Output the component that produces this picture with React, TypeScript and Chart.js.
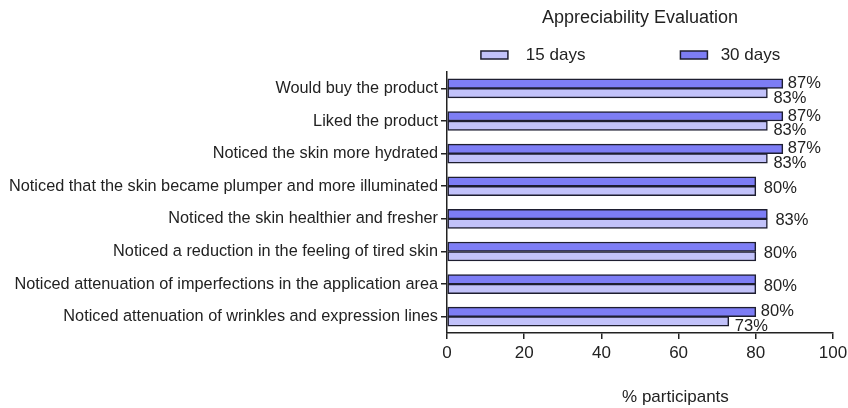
import React, { useEffect, useRef } from "react";
import { Chart, registerables } from "chart.js";

Chart.register(...registerables);

const categories = [
  "Would buy the product",
  "Liked the product",
  "Noticed the skin more hydrated",
  "Noticed that the skin became plumper and more illuminated",
  "Noticed the skin healthier and fresher",
  "Noticed a reduction in the feeling of tired skin",
  "Noticed attenuation of imperfections in the application area",
  "Noticed attenuation of wrinkles and expression lines",
];
const days30 = [87, 87, 87, 80, 83, 80, 80, 80];
const days15 = [83, 83, 83, 80, 83, 80, 80, 73];
const xTicks = [0, 20, 40, 60, 80, 100];
const seriesNames = ["30 days", "15 days"];

const FONT = '"Liberation Sans", Arial, sans-serif';
const TEXT = "#222";
const AXIS = "#222";

const valueLabels = {
  id: "valueLabels",
  afterDatasetsDraw(chart: any) {
    const ctx = chart.ctx;
    const m0 = chart.getDatasetMeta(0);
    const m1 = chart.getDatasetMeta(1);
    ctx.save();
    ctx.font = `16.5px ${FONT}`;
    ctx.fillStyle = TEXT;
    ctx.textBaseline = "middle";
    ctx.textAlign = "left";
    categories.forEach((_, i) => {
      const a = days30[i];
      const b = days15[i];
      const b0 = m0.data[i];
      const b1 = m1.data[i];
      if (a === b) {
        ctx.fillText(a + "%", b0.x + 8, (b0.y + b1.y) / 2 + 2);
      } else {
        ctx.fillText(a + "%", b0.x + 5, b0.y);
        ctx.fillText(b + "%", b1.x + 6, b1.y + 5);
      }
    });
    ctx.restore();
  },
};

export default function App() {
  const ref = useRef<HTMLCanvasElement>(null);

  useEffect(() => {
    if (!ref.current) return;
    Chart.defaults.font.family = FONT;
    Chart.defaults.color = TEXT;
    const chart = new Chart(ref.current, {
      type: "bar",
      data: {
        labels: categories,
        datasets: [
          {
            label: seriesNames[0],
            data: days30,
            backgroundColor: "#7d7df5",
            borderColor: "#1e1e30",
            borderWidth: 1.5,
            borderSkipped: false,
            barThickness: 9.5,
            categoryPercentage: 0.76,
          },
          {
            label: seriesNames[1],
            data: days15,
            backgroundColor: "#c2c2fa",
            borderColor: "#1e1e30",
            borderWidth: 1.5,
            borderSkipped: false,
            barThickness: 9.5,
            categoryPercentage: 0.76,
          },
        ],
      },
      options: {
        indexAxis: "y",
        responsive: false,
        animation: false,
        layout: { padding: 0 },
        plugins: {
          title: {
            display: true,
            text: "Appreciability Evaluation",
            fullSize: false,
            color: TEXT,
            font: { size: 18, weight: "normal" },
            padding: { top: 7.5, bottom: 7.5 },
          },
          legend: {
            display: true,
            fullSize: false,
            maxHeight: 35.5,
            labels: {
              color: TEXT,
              font: { size: 17 },
              boxWidth: 27,
              boxHeight: 8,
              padding: 10,
              generateLabels: (chart: any) => {
                const items = Chart.defaults.plugins.legend.labels.generateLabels(chart);
                const rev = items.slice().reverse();
                rev[0].text = "  " + rev[0].text + "                  ";
                rev[1].text = " " + rev[1].text + "    ";
                return rev;
              },
            },
          },
          tooltip: { enabled: false },
        },
        scales: {
          x: {
            min: 0,
            max: 100,
            afterBuildTicks: (s: any) => {
              s.ticks = xTicks.map((v) => ({ value: v }));
            },
            afterFit: (s: any) => {
              s.height = 75;
              s.paddingRight = 15;
            },
            ticks: { font: { size: 17 }, color: TEXT, padding: 4 },
            grid: {
              display: true,
              drawOnChartArea: false,
              drawTicks: true,
              tickLength: 6,
              color: AXIS,
              lineWidth: 1.5,
            },
            border: { color: AXIS, width: 1.5 },
            title: {
              display: true,
              text: "               % participants",
              color: TEXT,
              font: { size: 17 },
              padding: { top: 0, bottom: 0 },
            },
          },
          y: {
            afterFit: (s: any) => {
              s.width = 447;
            },
            ticks: { font: { size: 16.3 }, color: TEXT, padding: 3 },
            grid: {
              display: true,
              offset: false,
              drawOnChartArea: false,
              drawTicks: true,
              tickLength: 6,
              color: AXIS,
              lineWidth: 1.5,
            },
            border: { color: AXIS, width: 1.5 },
          },
        },
      } as any,
      plugins: [valueLabels],
    });
    return () => chart.destroy();
  }, []);

  return (
    <div style={{ position: "absolute", left: 0, top: 0, width: 848, height: 408 }}>
      <canvas ref={ref} width={848} height={408} />
    </div>
  );
}
